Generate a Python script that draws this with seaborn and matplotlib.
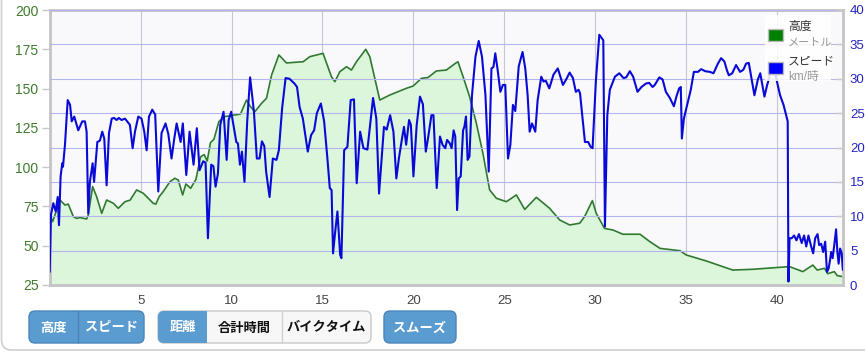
import matplotlib
matplotlib.use("Agg")
import matplotlib.pyplot as plt
from matplotlib.patches import Rectangle, FancyBboxPatch
from matplotlib.transforms import Affine2D
import seaborn as sns

# Elevation profile (distance km, altitude m)
elev_km = [0.0, 0.16, 0.57, 0.84, 1.02, 1.30, 1.48, 1.67, 2.03, 2.12, 2.36, 2.58, 2.86, 3.13,
           3.50, 3.77, 4.14, 4.42, 4.78, 5.14, 5.42, 5.69, 5.84, 6.02, 6.24, 6.61, 6.88, 7.07,
           7.31, 7.49, 7.75, 8.04, 8.30, 8.49, 8.66, 8.84, 9.03, 9.30, 9.58, 9.91, 10.18, 10.49,
           10.82, 11.04, 11.28, 11.65, 11.92, 12.20, 12.60, 13.02, 13.94, 14.30, 15.03, 15.49,
           15.68, 15.95, 16.32, 16.59, 16.87, 17.38, 17.60, 18.15, 18.70, 19.15, 19.62, 19.98,
           20.44, 20.80, 21.26, 21.81, 22.36, 22.45, 22.73, 23.09, 23.46, 23.82, 24.19, 24.56,
           25.11, 25.66, 26.12, 26.76, 27.49, 28.04, 28.59, 29.14, 29.41, 29.84, 30.05, 30.51,
           30.97, 31.52, 32.46, 33.01, 33.56, 34.66, 35.00, 36.10, 37.56, 38.66, 40.68, 41.41,
           41.96, 42.20, 42.60, 42.78, 43.14, 43.30, 43.60]
elev_m = [70.6, 65.3, 79.0, 75.9, 76.5, 68.5, 67.4, 67.9, 67.0, 69.5, 87.6, 81.2, 70.6, 79.1,
          77.0, 73.8, 78.0, 79.0, 85.5, 83.4, 80.2, 77.0, 76.5, 81.2, 84.4, 90.7, 92.9, 91.8,
          82.3, 89.3, 86.5, 92.2, 106.6, 108.0, 103.9, 115.6, 117.7, 128.9, 132.1, 132.7, 133.2, 133.8,
          142.7, 138.5, 135.3, 140.6, 143.8, 158.6, 171.4, 166.3, 167.1, 170.3, 172.4, 157.6,
          154.4, 160.7, 163.9, 161.8, 167.1, 175.0, 170.3, 142.7, 145.9, 148.0, 150.2, 151.6,
          156.5, 157.0, 161.2, 161.8, 166.5, 167.0, 157.6, 144.8, 127.9, 108.8, 85.5, 80.2,
          78.0, 82.3, 73.1, 80.8, 73.8, 66.4, 63.2, 64.3, 68.5, 78.7, 70.6, 61.0,
          60.0, 57.3, 57.3, 52.5, 48.3, 46.8, 44.1, 40.3, 34.5, 35.0, 36.7, 33.5,
          37.7, 34.5, 35.6, 32.2, 33.5, 31.0, 30.3]

# Speed (distance km, km/h)
speed_km = [0.0, 0.07, 0.2, 0.33, 0.44, 0.51, 0.6, 0.69, 0.73, 0.84, 0.99, 1.12, 1.21, 1.35, 1.57,
            1.79, 1.94, 2.03, 2.12, 2.21, 2.36, 2.44, 2.62, 2.76, 2.89, 3.0, 3.13, 3.26, 3.41,
            3.54, 3.68, 3.8, 3.95, 4.14, 4.41, 4.56, 4.69, 4.87, 5.05, 5.2, 5.33, 5.46, 5.64,
            5.8, 5.97, 6.15, 6.37, 6.52, 6.7, 6.85, 6.98, 7.2, 7.32, 7.51, 7.69, 7.91, 8.09,
            8.24, 8.44, 8.57, 8.70, 8.88, 9.0, 9.12, 9.25, 9.38, 9.56, 9.73, 9.84, 9.98, 10.13,
            10.26, 10.35, 10.46, 10.57, 10.71, 10.86, 11.02, 11.23, 11.39, 11.54, 11.67, 11.8,
            11.9, 12.09, 12.27, 12.47, 12.6, 12.78, 12.97, 13.18, 13.46, 13.6, 13.74, 13.92,
            14.19, 14.37, 14.54, 14.69, 14.91, 15.09, 15.27, 15.4, 15.5, 15.58, 15.68, 15.82,
            15.97, 16.04, 16.19, 16.37, 16.55, 16.73, 16.88, 17.07, 17.25, 17.47, 17.78, 17.96,
            18.11, 18.38, 18.53, 18.72, 18.9, 19.06, 19.2, 19.39, 19.48, 19.6, 19.76, 19.86,
            20.0, 20.18, 20.36, 20.52, 20.68, 20.8, 20.99, 21.1, 21.28, 21.46, 21.6, 21.75,
            21.85, 22.0, 22.1, 22.21, 22.3, 22.4, 22.49, 22.6, 22.73, 22.8, 22.89, 22.98, 23.08,
            23.22, 23.41, 23.59, 23.77, 23.96, 24.14, 24.29, 24.4, 24.5, 24.62, 24.78, 24.92,
            25.05, 25.2, 25.33, 25.47, 25.6, 25.79, 26.0, 26.15, 26.28, 26.39, 26.52, 26.7,
            26.83, 27.03, 27.15, 27.28, 27.47, 27.7, 27.94, 28.22, 28.38, 28.59, 28.77, 28.93,
            29.08, 29.16, 29.3, 29.43, 29.61, 29.74, 29.85, 30.03, 30.22, 30.44, 30.53, 30.66,
            30.8, 31.08, 31.32, 31.55, 31.7, 31.9, 32.08, 32.32, 32.54, 32.78, 32.96, 33.15,
            33.27, 33.52, 33.7, 33.88, 34.1, 34.32, 34.47, 34.61, 34.7, 34.76, 34.87, 35.06,
            35.25, 35.42, 35.65, 35.82, 36.04, 36.3, 36.5, 36.74, 36.92, 37.1, 37.23, 37.34,
            37.53, 37.74, 37.96, 38.14, 38.29, 38.44, 38.57, 38.75, 38.94, 39.07, 39.22, 39.3,
            39.44, 39.65, 39.85, 40.03, 40.16, 40.35, 40.49, 40.58, 40.62, 40.68, 40.8, 40.93,
            41.06, 41.2, 41.35, 41.48, 41.6, 41.72, 41.85, 41.98, 42.09, 42.22, 42.31, 42.42,
            42.53, 42.64, 42.74, 42.83, 42.9, 42.97, 43.05, 43.14, 43.24, 43.31, 43.38, 43.46,
            43.55, 43.61]
speed_kmh = [1.9, 10.2, 11.9, 10.7, 12.8, 8.7, 15.8, 17.7, 17.2, 20.4, 26.9, 26.2, 23.8, 24.5, 22.5,
             23.8, 23.8, 22.3, 10.4, 15.0, 17.7, 15.0, 20.8, 21.0, 22.3, 21.3, 14.5, 22.1, 24.2,
             24.3, 24.0, 24.3, 24.0, 24.2, 23.3, 19.9, 22.3, 24.5, 24.2, 22.3, 19.6, 24.5, 25.5,
             24.8, 13.6, 22.1, 23.5, 22.0, 18.4, 21.3, 23.5, 20.8, 23.5, 16.0, 22.3, 17.5, 22.8,
             16.7, 18.0, 17.8, 6.8, 17.5, 17.3, 14.3, 16.2, 23.3, 25.2, 18.2, 24.0, 25.2, 22.8,
             20.8, 20.6, 17.5, 19.4, 15.0, 23.8, 30.2, 25.2, 18.4, 18.4, 20.9, 20.2,
             16.5, 12.8, 18.4, 18.2, 19.6, 25.7, 30.1, 30.0, 29.3, 28.8, 25.9, 24.2,
             19.4, 21.8, 22.5, 25.0, 26.4, 23.8, 18.4, 14.1, 13.8, 4.6, 7.3, 10.7,
             4.4, 3.9, 19.6, 20.1, 26.9, 27.0, 14.8, 22.3, 19.9, 19.7, 27.2, 24.2,
             13.3, 23.0, 22.6, 24.7, 22.3, 15.5, 18.4, 21.6, 23.0, 20.4, 24.0, 23.3,
             15.8, 23.3, 27.4, 26.3, 19.4, 21.3, 24.7, 24.7, 14.1, 21.6, 20.4, 19.9,
             21.1, 20.6, 19.9, 22.5, 21.6, 10.9, 15.5, 15.8, 22.5, 23.0, 24.5, 18.2, 18.7,
             27.6, 33.2, 35.5, 33.2, 27.6, 16.5, 31.5, 31.7, 33.7, 31.5, 28.1, 29.1,
             29.1, 18.4, 20.4, 26.2, 25.3, 31.8, 33.9, 31.5, 27.6, 22.3, 23.5, 22.3,
             26.9, 30.3, 29.6, 29.7, 28.6, 30.6, 31.5, 29.1, 29.8, 30.9, 30.1, 28.1,
             28.4, 27.9, 24.2, 20.8, 20.8, 20.1, 19.9, 29.6, 36.4, 35.6, 8.5, 24.7,
             28.4, 30.3, 30.8, 30.1, 30.2, 31.1, 30.3, 28.1, 28.8, 29.3, 29.4, 28.8,
             29.1, 30.2, 29.9, 28.1, 27.2, 26.0, 27.5, 28.6, 28.8, 21.3, 24.2, 26.3,
             28.4, 31.0, 31.0, 31.4, 31.1, 31.0, 30.8, 32.2, 33.0, 32.5, 31.3, 30.5,
             30.8, 32.0, 31.0, 31.3, 32.2, 32.3, 30.3, 27.6, 29.9, 30.8, 28.6, 27.4,
             29.0, 31.0, 31.2, 29.1, 27.6, 26.2, 24.7, 23.8, 0.5, 6.8, 6.8, 7.2,
             6.5, 7.4, 6.1, 7.2, 5.6, 7.2, 5.8, 4.6, 6.8, 7.4, 5.8, 6.0,
             4.8, 6.3, 1.9, 2.4, 3.5, 4.8, 3.9, 5.8, 8.1, 4.8, 3.1, 5.3,
             4.6, 2.2]

x_ticks = [5, 10, 15, 20, 25, 30, 35, 40]
elev_ticks = [25, 50, 75, 100, 125, 150, 175, 200]
speed_ticks = [0, 5, 10, 15, 20, 25, 30, 35, 40]

W, H, DPI = 865, 355, 100

sns.set_theme(style="white")
plt.rcParams["font.family"] = ["Liberation Sans", "Noto Sans CJK JP", "DejaVu Sans"]

fig = plt.figure(figsize=(W / DPI, H / DPI), dpi=DPI, facecolor="white")
ax = fig.add_axes([49.7 / W, 1 - 285 / H, (843 - 49.7) / W, 275 / H])
ax.set_facecolor("#f9f9fb")

# elevation: filled area + line
ax.fill_between(elev_km, elev_m, 25, color="#dcf6dc", lw=0, zorder=1)
sns.lineplot(x=elev_km, y=elev_m, ax=ax, sort=False, estimator=None,
             color="#2f7a2f", lw=1.2, zorder=2)
ax.set_xlim(0, 43.62)
ax.set_ylim(25, 200)
ax.set_xticks(x_ticks)
ax.set_yticks(elev_ticks)
ax.grid(axis="x", color="#c6c6d4", lw=0.8)
ax.grid(axis="y", visible=False)
ax.set_axisbelow(True)
ax.tick_params(axis="x", length=0, pad=7, labelsize=9.5, labelcolor="#444444")
ax.tick_params(axis="y", length=6, width=1, color="#c8c8c8", pad=2,
               labelsize=10, labelcolor="#3e7b2c", left=True)
for s in ax.spines.values():
    s.set_color("#c4c4c4")
    s.set_linewidth(2)

# speed on the right axis
ax2 = ax.twinx()
sns.lineplot(x=speed_km, y=speed_kmh, ax=ax2, sort=False, estimator=None,
             color="#0a0ad8", lw=1.5, zorder=3)
ax2.set_ylim(0, 40)
ax2.set_yticks(speed_ticks)
ax2.grid(axis="y", color="#b4b4ee", lw=0.8)
ax2.set_axisbelow(True)
ax2.tick_params(axis="y", direction="in", length=5, width=1, color="#c8c8c8", pad=5,
                labelsize=9.5, labelcolor="#2424c0", right=True)
for s in ax2.spines.values():
    s.set_visible(False)
ax.set_xlabel("")
ax.set_ylabel("")
ax2.set_ylabel("")

# pixel transform (origin top-left)
px = Affine2D().scale(1 / DPI, -1 / DPI).translate(0, H / DPI) + fig.dpi_scale_trans

# legend
fig.add_artist(Rectangle((765, 15), 66, 66, transform=px, facecolor="white",
                         alpha=0.85, edgecolor="none", zorder=5))
fig.add_artist(Rectangle((768, 29), 15, 12, transform=px, facecolor="#008000",
                         edgecolor="#bbbbbb", lw=1, zorder=6))
fig.add_artist(Rectangle((768, 62), 15, 12, transform=px, facecolor="#0000ff",
                         edgecolor="#bbbbbb", lw=1, zorder=6))
for txt, y, col, fs in [("高度", 27, "#333333", 8.5), ("メートル", 43, "#999999", 8),
                        ("スピード", 61, "#333333", 8.5), ("km/時", 77, "#999999", 8.5)]:
    fig.text(788, y, txt, transform=px, color=col, fontsize=fs, va="center",
             ha="left", zorder=7)

# outer rounded frame
fig.add_artist(FancyBboxPatch((1.5, -40), 900, 390, transform=px,
                              boxstyle="round,pad=0,rounding_size=10",
                              facecolor="none", edgecolor="#cfcfcf", lw=1.2))

# buttons
blue, blue_edge = "#5a9bd0", "#4a86bb"


def group(x0, x1):
    p = FancyBboxPatch((x0, 311), x1 - x0, 32, transform=px,
                       boxstyle="round,pad=0,rounding_size=6",
                       facecolor="#f7f7f7", edgecolor="#c8c8c8", lw=1)
    fig.add_artist(p)
    return p


g1 = group(29, 144)
g1.set_facecolor(blue)
g1.set_edgecolor(blue_edge)
fig.add_artist(Rectangle((78, 311), 0.1, 32, transform=px, edgecolor=blue_edge, lw=1))

g2 = group(158, 371)
r = Rectangle((158, 311), 49, 32, transform=px, facecolor=blue, edgecolor="none")
fig.add_artist(r)
r.set_clip_path(g2)
fig.add_artist(Rectangle((282, 311), 0.1, 32, transform=px, edgecolor="#d0d0d0", lw=1))

g3 = group(384, 456)
g3.set_facecolor(blue)
g3.set_edgecolor(blue_edge)

for txt, xc, col in [("高度", 53.5, "white"), ("スピード", 111, "white"),
                     ("距離", 182.5, "white"), ("合計時間", 244.5, "#111111"),
                     ("バイクタイム", 326.5, "#111111"), ("スムーズ", 420, "white")]:
    fig.text(xc, 327.5, txt, transform=px, color=col, fontsize=9.5,
             fontweight="bold", ha="center", va="center",
             family=["Noto Sans CJK JP", "DejaVu Sans"])

fig.savefig("out.png", dpi=DPI, facecolor="white")
